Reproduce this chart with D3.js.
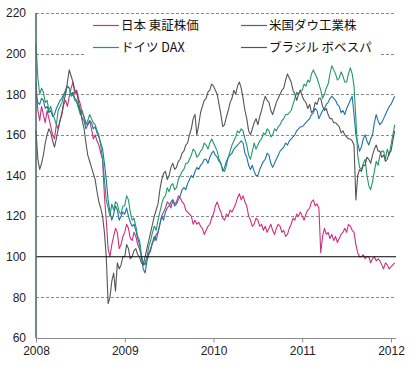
<!DOCTYPE html>
<html><head><meta charset="utf-8">
<script src="https://cdn.jsdelivr.net/npm/d3@7"></script>
<style>
html,body{margin:0;padding:0;background:#fff;}
svg{display:block;}
</style>
</head><body>
<svg id="c" width="411" height="366"></svg>
<script>
// Weekly observations (4 per month), starting Jan 2008
const startYear = 2008;
const stepsPerYear = 48;
const yearTicks = [2008, 2009, 2010, 2011, 2012];
const valueTicks = [60, 80, 100, 120, 140, 160, 180, 200, 220];
const seriesNames = ["日本 東証株価", "米国ダウ工業株", "ドイツ DAX", "ブラジル ボベスパ"];
const seriesColors = ["#cc2f7e", "#1f72a8", "#22996a", "#555555"];

const japan = [
 186,172,167,174,170,166,172,168,164,160,158,165,163,167,170,175,177,174,179,183,186,180,182,178,175,171,169,166,165,167,163,158,160,157,155,151,148,130,118,104,100,106,110,114,112,104,106,110,
 112,116,114,109,108,112,110,106,104,100,96,97,99,102,104,107,108,111,112,116,120,122,124,127,126,124,128,126,127,130,129,127,126,123,122,121,120,116,118,116,117,115,114,111,113,115,116,119,
 121,125,127,124,122,119,118,121,120,123,122,124,126,129,131,128,130,127,125,120,118,115,116,119,118,115,116,113,115,112,114,116,113,111,114,116,115,112,113,110,111,114,116,119,118,121,120,122,
 120,118,121,123,124,127,128,125,126,124,102,110,114,111,112,109,111,108,110,107,109,111,112,114,112,116,115,113,112,106,102,100,100,101,99,100,100,97,99,100,98,99,98,96,94,97,96,94,95,96,97
];
const usa = [
 180,176,175,178,177,173,174,171,172,169,170,173,175,177,178,180,182,184,183,180,181,178,177,174,171,168,167,163,165,167,166,163,164,161,159,156,153,146,138,128,122,118,121,125,123,118,120,122,
 121,124,120,117,115,116,113,109,106,100,94,92,98,101,103,107,110,108,112,116,120,118,122,124,125,127,128,125,126,128,130,133,134,133,136,138,140,139,142,144,143,145,146,148,148,146,149,151,
 152,150,149,147,146,142,144,147,149,150,151,153,154,155,156,157,156,151,149,145,143,145,142,140,140,143,145,147,148,151,150,146,144,146,148,150,152,153,154,156,155,157,158,159,160,162,163,164,
 164,165,166,167,168,170,171,173,172,168,170,172,173,175,176,178,179,178,177,175,174,171,172,170,173,175,177,179,170,160,156,152,154,158,160,157,155,158,160,166,170,167,165,166,168,170,172,174,175,177,179
];
const germany = [
 205,188,180,183,181,176,177,172,174,170,168,165,172,174,176,179,181,184,183,179,180,177,176,173,170,172,168,165,167,170,168,166,165,162,160,155,148,138,128,124,120,126,123,127,126,122,121,125,
 125,130,128,122,118,119,115,110,108,101,97,96,100,105,108,112,115,113,118,122,126,129,130,134,132,135,136,133,134,138,140,142,143,146,146,148,150,153,152,149,150,152,153,156,155,153,156,158,
 156,154,152,148,146,143,142,145,149,152,155,157,159,162,161,163,162,158,155,150,148,152,156,153,155,157,158,161,160,163,162,159,160,163,162,164,165,167,168,170,170,171,172,175,178,181,180,182,
 182,185,184,187,186,190,192,190,188,185,182,178,180,183,185,190,194,192,190,187,188,191,189,186,186,190,193,190,184,168,150,144,143,146,148,140,135,133,137,142,147,145,150,152,152,148,153,150,155,160,165
];
const brazil = [
 162,148,143,146,150,156,160,163,161,157,154,158,163,167,171,176,180,186,192,189,186,182,181,176,172,167,163,156,150,147,144,141,138,132,127,124,120,112,100,77,80,88,92,83,97,94,96,100,
 100,106,104,99,100,103,104,101,100,97,96,100,104,108,112,116,120,123,126,133,138,141,142,138,140,144,146,143,144,147,148,151,152,155,156,160,163,168,170,160,165,171,174,177,178,181,182,185,
 184,182,180,175,170,164,165,169,172,176,178,182,180,184,186,183,178,172,168,162,160,163,166,168,165,169,172,176,179,177,176,172,170,173,176,178,180,182,183,187,190,188,186,182,180,177,180,182,
 179,177,176,173,175,171,172,176,175,178,178,174,172,173,170,168,168,166,166,165,164,161,162,160,159,158,158,157,155,128,140,143,142,145,145,149,148,146,150,153,155,152,152,149,150,147,148,151,152,157,162
];
const seriesValues = [japan, usa, germany, brazil];

const svg = d3.select("#c");
const x = d3.scaleLinear().domain([2008, 2012]).range([36, 391]);
const y = d3.scaleLinear().domain([60, 220]).range([338, 13]);
const gridRight = 396;

// gridlines
svg.append("g").selectAll("line").data(valueTicks.filter(v => v !== 60 && v !== 100)).join("line")
  .attr("x1", 36).attr("x2", gridRight)
  .attr("y1", d => Math.round(y(d)) + 0.5).attr("y2", d => Math.round(y(d)) + 0.5)
  .attr("stroke", "#8a8a8a").attr("stroke-width", 1).attr("stroke-dasharray", "3,2");

// x axis
const xAxis = d3.axisBottom(x).tickValues(yearTicks).tickFormat(d3.format("d")).tickSize(4).tickPadding(4);
const gx = svg.append("g").attr("transform", "translate(0,338.5)").call(xAxis);
gx.select(".domain").attr("d", `M36,0H${gridRight}`).attr("stroke", "#8c8c8c");
gx.selectAll(".tick line").attr("stroke", "#8c8c8c");
gx.selectAll("text").attr("font-family", "Liberation Sans, Arial, sans-serif").attr("font-size", 12).attr("fill", "#222");

// y axis
const yAxis = d3.axisLeft(y).tickValues(valueTicks).tickSize(0).tickPadding(10);
const gy = svg.append("g").attr("transform", "translate(36,0)").call(yAxis);
gy.select(".domain").remove();
gy.selectAll("text").attr("font-family", "Liberation Sans, Arial, sans-serif").attr("font-size", 12).attr("fill", "#222");

// lines
const line = d3.line().x((d, i) => x(startYear + i / stepsPerYear)).y(d => y(d));
svg.append("g").selectAll("path").data(seriesValues).join("path")
  .attr("d", d => line(d)).attr("fill", "none")
  .attr("stroke", (d, i) => seriesColors[i]).attr("stroke-width", 1.1).attr("stroke-linejoin", "round");

// 100 baseline
svg.append("line").attr("x1", 36).attr("x2", gridRight)
  .attr("y1", y(100)).attr("y2", y(100)).attr("stroke", "#000").attr("stroke-width", 1.2);

// left axis line
svg.append("line").attr("x1", 36).attr("x2", 36).attr("y1", y(220)).attr("y2", y(60))
  .attr("stroke", "#4a6e6e").attr("stroke-width", 1.6);

// legend
svg.append("rect").attr("x", 86).attr("y", 15).attr("width", 295).attr("height", 43).attr("fill", "#fff");
const legendPos = [[93, 25], [241, 25], [93, 47], [241, 47]];
const lg = svg.append("g").selectAll("g").data(seriesNames).join("g")
  .attr("transform", (d, i) => `translate(${legendPos[i][0]},${legendPos[i][1]})`);
lg.append("line").attr("x1", 0).attr("x2", 26).attr("y1", 0.5).attr("y2", 0.5)
  .attr("stroke", (d, i) => seriesColors[i]).attr("stroke-width", 1.2);
lg.append("text").attr("x", 28).attr("y", 0).attr("dy", "0.36em")
  .attr("font-family", "Noto Sans CJK JP, sans-serif").attr("font-size", 12.5).attr("fill", "#111")
  .text(d => d);
</script>
</body></html>
